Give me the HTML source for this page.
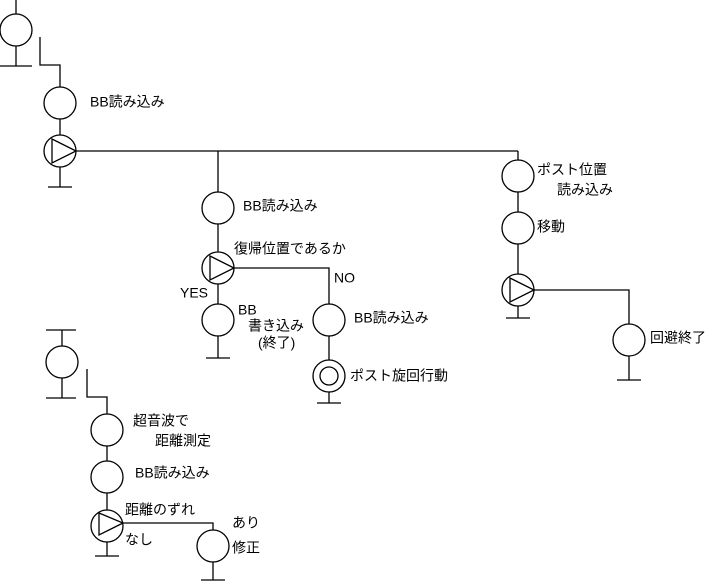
<!DOCTYPE html>
<html><head><meta charset="utf-8"><style>
html,body{margin:0;padding:0;background:#fff}
svg{display:block}
text{font-family:"Liberation Sans","Noto Sans CJK JP",sans-serif;font-size:14px;fill:#000;dominant-baseline:middle}
</style></head><body>
<svg width="716" height="588" viewBox="0 0 716 588" xmlns="http://www.w3.org/2000/svg">
<g fill="none" stroke="#000" stroke-width="1.3">
<line x1="16" y1="0" x2="16" y2="14"/><circle cx="16" cy="30" r="16"/><line x1="16" y1="46" x2="16" y2="66"/><line x1="0" y1="66" x2="32" y2="66"/>
<polyline points="40,37 40,65 60,65 60,87"/>
<circle cx="60" cy="103" r="16"/><line x1="60" y1="119" x2="60" y2="135"/>
<circle cx="60" cy="151" r="16"/><polygon points="52,139 76,151 52,163"/>
<line x1="60" y1="167" x2="60" y2="187"/><line x1="48" y1="187" x2="72" y2="187"/>
<line x1="76" y1="151" x2="518" y2="151"/>
<line x1="218" y1="151" x2="218" y2="192"/><circle cx="218" cy="208" r="16"/><line x1="218" y1="224" x2="218" y2="252"/>
<circle cx="218" cy="268" r="16"/><polygon points="210,256 234,268 210,280"/>
<polyline points="234,268 329,268 329,304"/>
<line x1="218" y1="284" x2="218" y2="304"/><circle cx="218" cy="320" r="16"/><line x1="218" y1="336" x2="218" y2="358"/><line x1="206" y1="358" x2="230" y2="358"/>
<circle cx="329" cy="320" r="16"/><line x1="329" y1="336" x2="329" y2="360"/>
<circle cx="329" cy="376" r="16"/><circle cx="329" cy="376" r="9"/>
<line x1="329" y1="392" x2="329" y2="403"/><line x1="317" y1="403" x2="341" y2="403"/>
<line x1="518" y1="151" x2="518" y2="160"/><circle cx="518" cy="176" r="16"/><line x1="518" y1="192" x2="518" y2="212"/>
<circle cx="518" cy="228" r="16"/><line x1="518" y1="244" x2="518" y2="274"/>
<circle cx="518" cy="290" r="16"/><polygon points="510,278 534,290 510,302"/>
<line x1="518" y1="306" x2="518" y2="318"/><line x1="506" y1="318" x2="530" y2="318"/>
<polyline points="534,290 629,290 629,324"/>
<circle cx="629" cy="340" r="16"/><line x1="629" y1="356" x2="629" y2="380"/><line x1="617" y1="380" x2="641" y2="380"/>
<line x1="46" y1="330" x2="76" y2="330"/><line x1="62" y1="330" x2="62" y2="346"/><circle cx="62" cy="362" r="16"/><line x1="62" y1="378" x2="62" y2="398"/><line x1="46" y1="398" x2="76" y2="398"/>
<polyline points="87,369 87,397 107,397 107,414"/>
<circle cx="107" cy="430" r="16"/><line x1="107" y1="446" x2="107" y2="461"/>
<circle cx="107" cy="477" r="16"/><line x1="107" y1="493" x2="107" y2="510"/>
<circle cx="107" cy="526" r="16"/><polygon points="99,513 123,523 99,535"/>
<line x1="107" y1="542" x2="107" y2="556"/><line x1="95" y1="556" x2="119" y2="556"/>
<polyline points="123,523 213,523 213,530"/>
<circle cx="213" cy="546" r="16"/><line x1="213" y1="562" x2="213" y2="580"/><line x1="201" y1="580" x2="225" y2="580"/>
</g>
<text x="90" y="103">BB読み込み</text>
<text x="243" y="207">BB読み込み</text>
<text x="234" y="250">復帰位置であるか</text>
<text x="334" y="279">NO</text>
<text x="180" y="294">YES</text>
<text x="238" y="311">BB</text>
<text x="248" y="327">書き込み</text>
<text x="258" y="344">(終了)</text>
<text x="354" y="319">BB読み込み</text>
<text x="350" y="377">ポスト旋回行動</text>
<text x="537" y="171">ポスト位置</text>
<text x="557" y="191">読み込み</text>
<text x="537" y="228">移動</text>
<text x="650" y="339">回避終了</text>
<text x="133" y="422">超音波で</text>
<text x="155" y="442">距離測定</text>
<text x="135" y="474">BB読み込み</text>
<text x="125" y="511">距離のずれ</text>
<text x="125" y="541">なし</text>
<text x="232" y="524">あり</text>
<text x="232" y="549">修正</text>
</svg>
</body></html>
